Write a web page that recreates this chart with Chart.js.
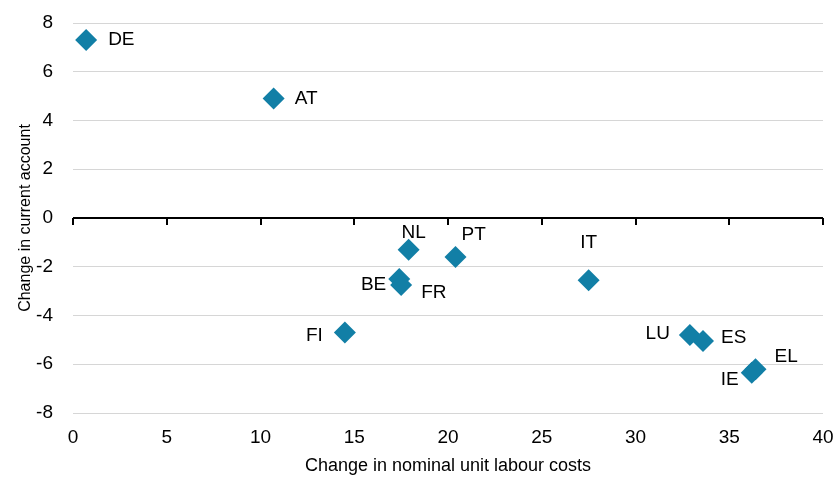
<!DOCTYPE html>
<html>
<head>
<meta charset="utf-8">
<script src="https://cdn.jsdelivr.net/npm/chart.js@4"></script>
<style>
  html, body { margin: 0; padding: 0; background: #fff; }
  #wrap { width: 835px; height: 479px; }
</style>
</head>
<body>
<div id="wrap"><canvas id="myChart"></canvas></div>
<script>
var countries = ['DE', 'AT', 'NL', 'PT', 'BE', 'FR', 'FI', 'IT', 'LU', 'ES', 'EL', 'IE'];
var unitLabourCosts = [0.7, 10.7, 17.9, 20.4, 17.4, 17.5, 14.5, 27.5, 32.9, 33.6, 36.4, 36.2];
var currentAccount = [7.3, 4.9, -1.3, -1.6, -2.5, -2.75, -4.7, -2.55, -4.8, -5.05, -6.2, -6.35];

// label placement next to each marker (pixels from marker centre)
var labelStyle = {
  DE: ['left', 22, 0],
  AT: ['left', 21, 0],
  NL: ['center', 5, -17],
  PT: ['left', 6, -22],
  BE: ['right', -13, 6],
  FR: ['left', 20, 8],
  FI: ['right', -22, 3],
  IT: ['center', 0, -37],
  LU: ['right', -20, -1],
  ES: ['left', 18, -3],
  EL: ['left', 19, -12],
  IE: ['right', -13, 7]
};

var font = "'Liberation Sans', Arial, sans-serif";

var points = [];
for (let i = 0; i < countries.length; i++) {
  points.push({ x: unitLabourCosts[i], y: currentAccount[i] });
}

// zero line with small tick marks, plus the country labels
var extras = {
  id: 'extras',
  afterDatasetsDraw: function(chart) {
    var ctx = chart.ctx;
    var xs = chart.scales.x;
    var ys = chart.scales.y;
    var y0 = Math.round(ys.getPixelForValue(0));
    ctx.save();
    ctx.strokeStyle = '#000';
    ctx.lineWidth = 2;
    ctx.beginPath();
    ctx.moveTo(xs.left, y0);
    ctx.lineTo(xs.right, y0);
    for (let v = 0; v <= 40; v += 5) {
      var px = Math.round(xs.getPixelForValue(v));
      ctx.moveTo(px, y0);
      ctx.lineTo(px, y0 + 7);
    }
    ctx.stroke();

    ctx.fillStyle = '#000';
    ctx.font = '19px ' + font;
    ctx.textBaseline = 'middle';
    var meta = chart.getDatasetMeta(0);
    for (let i = 0; i < countries.length; i++) {
      var p = meta.data[i];
      var s = labelStyle[countries[i]];
      ctx.textAlign = s[0];
      ctx.fillText(countries[i], p.x + s[1], p.y + s[2]);
    }
    ctx.restore();
  }
};

var ctx = document.getElementById('myChart');
var myChart = new Chart(ctx, {
  type: 'scatter',
  data: {
    datasets: [{
      data: points,
      pointStyle: 'rectRot',
      pointRadius: 11,
      pointHoverRadius: 11,
      backgroundColor: '#127fa6',
      borderColor: '#127fa6',
      borderWidth: 0
    }]
  },
  options: {
    responsive: true,
    maintainAspectRatio: false,
    animation: false,
    layout: { padding: { top: 23, right: 12, left: 0, bottom: 0 } },
    plugins: { legend: { display: false }, tooltip: { enabled: false } },
    scales: {
      x: {
        type: 'linear',
        min: 0,
        max: 40,
        ticks: { stepSize: 5, color: '#000', font: { family: font, size: 19 }, padding: 13 },
        grid: { display: false, drawTicks: false },
        border: { display: false },
        title: { display: true, text: 'Change in nominal unit labour costs', color: '#000', font: { family: font, size: 18 }, padding: { top: 0, bottom: 2 } },
        afterFit: function(scale) {
          scale.height = 66;
          scale.paddingLeft = 0;
          scale.paddingRight = 0;
        }
      },
      y: {
        min: -8,
        max: 8,
        ticks: { stepSize: 2, color: '#000', font: { family: font, size: 19 }, padding: 20 },
        grid: { color: '#d6d6d6', lineWidth: 1, drawTicks: false },
        border: { display: false },
        title: { display: true, text: 'Change in current account', color: '#000', font: { family: font, size: 16 }, padding: { top: 16, bottom: 0 } },
        afterFit: function(scale) {
          scale.width = 73;
          scale.paddingTop = 0;
          scale.paddingBottom = 0;
        }
      }
    }
  },
  plugins: [extras]
});
</script>
</body>
</html>
